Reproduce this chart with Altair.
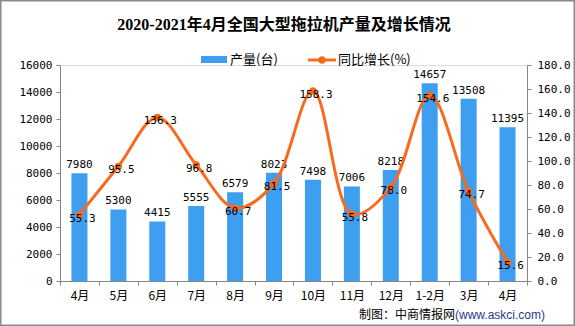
import altair as alt
import pandas as pd
import json

months = ["4月", "5月", "6月", "7月", "8月", "9月", "10月", "11月", "12月", "1-2月", "3月", "4月"]
output = [7980, 5300, 4415, 5555, 6579, 8023, 7498, 7006, 8218, 14657, 13508, 11395]
growth = [55.3, 95.5, 136.3, 96.8, 60.7, 81.5, 158.3, 55.8, 78.0, 154.6, 74.7, 15.6]
title_text = "2020-2021年4月全国大型拖拉机产量及增长情况"
left_ticks = [0, 2000, 4000, 6000, 8000, 10000, 12000, 14000, 16000]
right_ticks = [0, 20, 40, 60, 80, 100, 120, 140, 160, 180]

BLUE = "#3E9EEF"
ORANGE = "#FA6A1E"
GRAY = "#868686"
NUMFONT = "DejaVu Sans Mono"
CJK = "Noto Sans CJK SC"

df = pd.DataFrame({"idx": list(range(len(months))), "month": months,
                   "output": output, "growth": growth})

label_expr = json.dumps(months, ensure_ascii=False) + "[datum.value]"

x = alt.X("idx:O", title=None,
          scale=alt.Scale(paddingInner=0, paddingOuter=0),
          axis=alt.Axis(labelExpr=label_expr, labelAngle=0, tickBand="extent",
                        domainColor=GRAY, tickColor=GRAY, tickSize=4,
                        labelFont=CJK, labelFontSize=12, labelColor="#000",
                        labelPadding=5))

yl = alt.Y("output:Q", title=None,
           scale=alt.Scale(domain=[0, 16000], nice=False),
           axis=alt.Axis(values=left_ticks, grid=False, format="d",
                         labelOverlap=False, tickCount=9,
                         domainColor=GRAY, tickColor=GRAY, tickSize=4,
                         labelFont=NUMFONT, labelFontSize=11, labelColor="#000",
                         labelPadding=4, orient="left"))
yr = alt.Y("growth:Q", title=None, scale=alt.Scale(domain=[0, 180], nice=False),
           axis=alt.Axis(values=right_ticks, format=".1f", grid=False,
                         labelOverlap=False, tickCount=10,
                         domainColor=GRAY, tickColor=GRAY, tickSize=4,
                         labelFont=NUMFONT, labelFontSize=11, labelColor="#000",
                         labelPadding=6, orient="right"))

base = alt.Chart(df)

bars = base.mark_bar(color=BLUE, width=16).encode(x=x, y=yl)
bar_text = base.mark_text(baseline="bottom", dy=-3, font=NUMFONT, fontSize=11,
                          color="#000").encode(x=x, y=yl, text=alt.Text("output:Q"))
left = alt.layer(bars, bar_text)

line = base.mark_line(color=ORANGE, strokeWidth=3, interpolate="catmull-rom").encode(x=x, y=yr)
pts = base.mark_circle(color=ORANGE, size=55, opacity=1).encode(x=x, y=yr)
line_text = base.mark_text(font=NUMFONT, fontSize=11, color="#000", dy=4, dx=3).encode(
    x=x, y=yr, text=alt.Text("growth:Q", format=".1f"))
right = alt.layer(line, pts, line_text)

main = alt.layer(left, right).resolve_scale(y="independent")

# title, legend & decorations
title = alt.Chart().mark_text(align="center", baseline="middle",
                              font="'Liberation Serif', 'Noto Sans CJK SC'", fontSize=16,
                              fontWeight="bold", color="#000").encode(
    x=alt.value(224), y=alt.value(-40), text=alt.value(title_text))
leg_rect = alt.Chart().mark_rect(color=BLUE).encode(
    x=alt.value(141), x2=alt.value(167), y=alt.value(-9), y2=alt.value(-2))
leg_t1 = alt.Chart().mark_text(align="left", baseline="middle", font=CJK, fontSize=13,
                               color="#000").encode(
    x=alt.value(170), y=alt.value(-5), text=alt.value("产量(台)"))
leg_rule = alt.Chart().mark_rule(color=ORANGE, strokeWidth=3).encode(
    x=alt.value(248), x2=alt.value(276), y=alt.value(-5))
leg_pt = alt.Chart().mark_point(color=ORANGE, filled=True, opacity=1, size=55, shape="circle").encode(
    x=alt.value(262), y=alt.value(-5))
leg_t2 = alt.Chart().mark_text(align="left", baseline="middle", font=CJK, fontSize=13,
                               color="#000").encode(
    x=alt.value(278), y=alt.value(-5), text=alt.value("同比增长(%)"))
foot1 = alt.Chart().mark_text(align="right", baseline="middle", font=CJK, fontSize=12,
                              color="#000").encode(
    x=alt.value(395), y=alt.value(250), text=alt.value("制图：中商情报网"))
foot2 = alt.Chart().mark_text(align="left", baseline="middle", font="Liberation Sans",
                              fontSize=12, color="#1F3C88").encode(
    x=alt.value(395), y=alt.value(250), text=alt.value("(www.askci.com)"))
border = alt.Chart().mark_rect(fillOpacity=0, stroke="#8A8A8A", strokeWidth=1.5).encode(
    x=alt.value(-59.25), x2=alt.value(514.25), y=alt.value(-64.25), y2=alt.value(260.25))

chart = alt.layer(main, title, leg_rect, leg_t1, leg_rule, leg_pt, leg_t2, foot1, foot2, border).properties(
    width=467, height=216,
    padding={"left": 60, "top": 65, "right": 48, "bottom": 45},
    autosize=alt.AutoSizeParams(type="none"),
).configure_view(stroke=None).configure(background="white")

chart.save("out.html", embed_options={"renderer": "svg", "actions": False})
